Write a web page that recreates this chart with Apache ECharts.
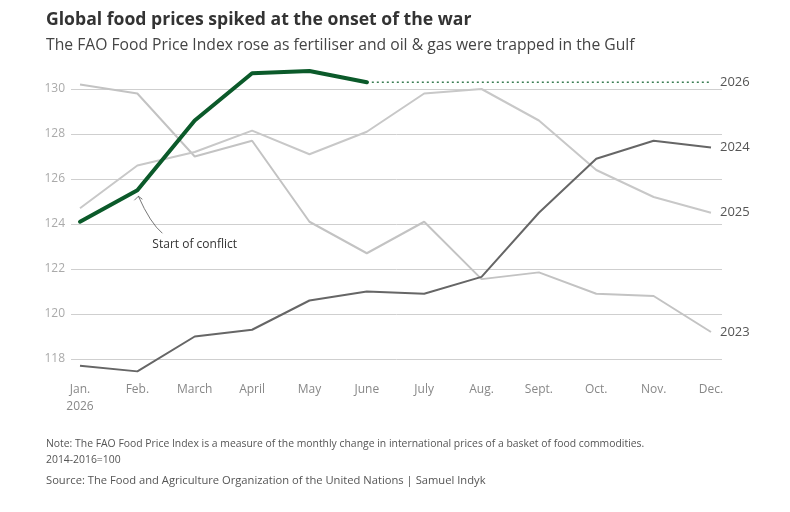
<!DOCTYPE html>
<html lang="en">
<head>
    <meta charset="UTF-8">
    <title>Global food prices</title>
    <script src="https://cdn.jsdelivr.net/npm/echarts@6/dist/echarts.min.js"></script>
    <style>
        html, body { margin: 0; padding: 0; background: #fff; }
        #chart { width: 790px; height: 512px; }
    </style>
</head>
<body>
<div id="chart"></div>
<script>
    // months on the x axis
    var months = ['Jan.\n2026', 'Feb.', 'March', 'April', 'May', 'June', 'July', 'Aug.', 'Sept.', 'Oct.', 'Nov.', 'Dec.'];
    // FAO Food Price Index, by year
    var y2023 = [130.2, 129.8, 127.0, 127.7, 124.1, 122.7, 124.1, 121.55, 121.85, 120.9, 120.8, 119.2];
    var y2024 = [117.7, 117.45, 119.0, 119.3, 120.6, 121.0, 120.9, 121.65, 124.5, 126.9, 127.7, 127.4];
    var y2025 = [124.7, 126.6, 127.2, 128.15, 127.1, 128.1, 129.8, 130.0, 128.6, 126.4, 125.2, 124.5];
    var y2026 = [124.1, 125.5, 128.6, 130.7, 130.8, 130.3];
    var yTicks = [118, 120, 122, 124, 126, 128, 130];

    // month index -> [x, y] pairs for the value x axis
    function pairs(arr) {
        return arr.map(function (v, i) { return v == null ? [i, null] : [i, v]; });
    }
    // dotted continuation of the latest 2026 value to the end of the year
    var last2026 = y2026[y2026.length - 1];
    var y2026dots = months.map(function (m, i) {
        return i >= y2026.length - 1 ? last2026 : null;
    });

    var chart = echarts.init(document.getElementById('chart'));
    var font = 'Open Sans';

    function yearLabel(txt) {
        return {
            show: true,
            formatter: txt,
            distance: 9,
            color: '#555',
            fontSize: 13,
            fontFamily: font
        };
    }

    var option = {
        animation: false,
        title: [{
            text: 'Global food prices spiked at the onset of the war',
            left: 41, top: 6,
            textStyle: { fontFamily: font, fontSize: 17.6, fontWeight: 'bold', color: '#333' }
        }, {
            text: 'The FAO Food Price Index rose as fertiliser and oil & gas were trapped in the Gulf',
            left: 41, top: 33,
            textStyle: { fontFamily: font, fontSize: 15.7, fontWeight: 'normal', color: '#444' }
        }, {
            text: 'Note: The FAO Food Price Index is a measure of the monthly change in international prices of a basket of food commodities.\n2014-2016=100',
            left: 41, top: 431,
            textStyle: { fontFamily: font, fontSize: 10.4, fontWeight: 'normal', color: '#555', lineHeight: 16 }
        }, {
            text: 'Source: The Food and Agriculture Organization of the United Nations | Samuel Indyk',
            left: 41, top: 470,
            textStyle: { fontFamily: font, fontSize: 11.2, fontWeight: 'normal', color: '#555' }
        }],
        grid: { left: 71, right: 68, top: 66.5, bottom: 130.5 },
        xAxis: {
            type: 'value',
            min: -0.157,
            max: 11.192,
            axisLine: { show: false },
            axisTick: { show: false },
            axisLabel: {
                customValues: months.map(function (m, i) { return i; }),
                formatter: function (v) { return months[Math.round(v)]; },
                color: '#888', fontSize: 12, fontFamily: font, margin: 0,
                lineHeight: 17, align: 'center'
            },
            splitLine: { show: false }
        },
        yAxis: {
            type: 'value',
            min: 117,
            max: 131,
            interval: 1,
            axisLine: { show: false },
            axisTick: { show: false },
            axisLabel: {
                color: '#aaa', fontSize: 12, fontFamily: font, margin: 6,
                formatter: function (v) { return yTicks.indexOf(v) >= 0 ? String(v) : ''; }
            },
            splitLine: {
                show: true,
                lineStyle: { color: ['rgba(0,0,0,0)', '#cfcfcf'], width: 1 }
            }
        },
        series: [{
            name: '2023', type: 'line', data: pairs(y2023), symbol: 'none',
            lineStyle: { color: '#c3c3c3', width: 2 },
            endLabel: yearLabel('2023'), z: 2
        }, {
            name: '2025', type: 'line', data: pairs(y2025), symbol: 'none',
            lineStyle: { color: '#c8c8c8', width: 2 },
            endLabel: yearLabel('2025'), z: 2
        }, {
            name: '2024', type: 'line', data: pairs(y2024), symbol: 'none',
            lineStyle: { color: '#666', width: 2 },
            endLabel: yearLabel('2024'), z: 3
        }, {
            name: '2026 dots', type: 'line', data: pairs(y2026dots), symbol: 'none',
            lineStyle: { color: '#3a7d52', width: 1.5, type: [2, 3] },
            endLabel: yearLabel('2026'), z: 4
        }, {
            name: '2026', type: 'line', data: pairs(y2026), symbol: 'none',
            lineStyle: { color: '#0b5a2a', width: 4, cap: 'round', join: 'round' },
            z: 5
        }]
    };
    chart.setOption(option);

    // annotation pointing to the February 2026 value
    var p = chart.convertToPixel({ seriesIndex: 4 }, [1, y2026[1]]);
    var tip = [p[0] + 1, p[1] + 6];
    var tail = [p[0] + 25, p[1] + 43];
    chart.setOption({
        graphic: [{
            type: 'bezierCurve',
            shape: {
                x1: tail[0], y1: tail[1],
                x2: tip[0], y2: tip[1],
                cpx1: tail[0] - 12, cpy1: tail[1] - 10
            },
            style: { stroke: '#555', lineWidth: 0.8, fill: null }
        }, {
            type: 'polyline',
            shape: { points: [[tip[0] - 4, tip[1] + 4], tip, [tip[0] + 4, tip[1] + 3]] },
            style: { stroke: '#555', lineWidth: 0.8, fill: null }
        }, {
            type: 'text',
            x: p[0] + 15, y: p[1] + 48,
            style: { text: 'Start of conflict', fill: '#333', fontSize: 12, fontFamily: font }
        }]
    });
</script>
</body>
</html>
